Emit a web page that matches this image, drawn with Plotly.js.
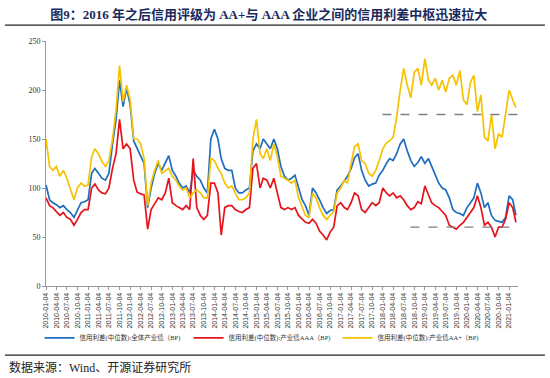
<!DOCTYPE html>
<html><head><meta charset="utf-8">
<script src="https://cdn.plot.ly/plotly-3.0.1.min.js"></script>
<style>html,body{margin:0;padding:0;background:#fff}#chart{width:550px;height:378px}</style>
</head><body><div id="chart"></div>
<script>
// Monthly readings, Jan 2010 .. Mar 2021
var startYear = 2010;
var seriesNames = ["信用利差(中位数):全体产业债（BP)", "信用利差(中位数):产业债AAA（BP)", "信用利差(中位数):产业债AA+（BP)"];
var spreadAll = [
103,88,85,83,80,82,78,75,70,78,85,86,
88,115,120,115,110,108,115,145,170,210,183,202,
185,148,140,132,125,80,100,115,125,118,125,133,
118,112,105,100,102,95,118,112,108,100,95,150,
160,150,130,120,118,118,100,95,95,98,100,138,
145,140,150,145,140,150,140,122,112,108,110,113,
100,88,82,72,100,95,88,80,74,77,78,98,
102,108,112,120,131,135,118,108,102,104,105,113,
118,125,130,128,135,145,150,138,128,122,126,132,
125,130,122,115,105,100,98,90,78,75,74,72,
80,85,90,105,95,80,85,72,67,66,65,70,
92,88,72];
var spreadAAA = [
90,82,80,76,72,75,70,68,62,68,75,78,
78,100,104,98,95,94,100,120,135,170,140,145,
140,108,96,94,93,58,78,84,90,88,95,110,
85,82,80,78,82,78,130,80,72,68,72,105,
105,95,52,80,82,82,78,76,75,78,80,120,
125,100,110,108,100,110,95,80,78,80,78,80,
72,68,65,64,68,64,56,52,47,55,60,82,
85,80,78,85,95,92,78,75,80,85,82,85,
100,95,92,95,90,92,88,82,78,80,86,84,
102,92,85,82,80,76,72,62,60,58,62,65,
70,75,80,92,80,62,65,60,50,60,60,68,
85,80,65];
var spreadAAplus = [
150,122,118,122,112,118,110,100,88,100,105,102,
103,132,140,135,127,122,128,150,180,225,188,205,
190,150,150,145,130,82,105,118,128,115,118,120,
112,108,102,98,100,90,95,98,95,90,90,130,
128,120,115,105,100,102,95,88,88,90,95,150,
170,135,130,140,128,145,132,112,110,108,105,108,
90,80,72,70,95,90,80,72,68,72,76,95,
100,108,105,125,142,145,128,125,115,112,118,128,
140,146,148,152,172,200,222,205,192,218,222,205,
232,210,205,212,200,210,198,212,215,205,220,190,
185,208,215,178,195,152,148,175,140,155,152,175,
200,190,182];
// Centre-line (dashed) levels and spans
var upperLevel = 175, upperSpan = ["2018-01-01", "2021-03-31"];
var lowerLevel = 60,  lowerSpan = ["2018-09-01", "2021-03-31"];

function pad(n){return (n<10?"0":"")+n;}
var dates = [];
for (var i = 0; i < spreadAll.length; i++) {
  var y = startYear + Math.floor(i/12), m = i%12 + 1;
  dates.push(y + "-" + pad(m) + "-04");
}
var tickLabels = [];
for (var yy = 2010; yy <= 2021; yy++) {
  for (var q = 0; q < 4; q++) {
    var lab = yy + "-" + pad(q*3+1) + "-04";
    if (lab <= "2021-01-04") tickLabels.push(lab);
  }
}
var lw = 1.7;
var traces = [
  {x: dates, y: spreadAll, name: seriesNames[0], type: "scatter", mode: "lines", line: {color: "#1F6DBE", width: lw}},
  {x: dates, y: spreadAAA, name: seriesNames[1], type: "scatter", mode: "lines", line: {color: "#E5131B", width: lw}},
  {x: dates, y: spreadAAplus, name: seriesNames[2], type: "scatter", mode: "lines", line: {color: "#F6C200", width: lw}},
  {x: upperSpan, y: [upperLevel, upperLevel], type: "scatter", mode: "lines", showlegend: false, hoverinfo: "skip", line: {color: "#7F7F7F", width: 1.3, dash: "dash"}},
  {x: lowerSpan, y: [lowerLevel, lowerLevel], type: "scatter", mode: "lines", showlegend: false, hoverinfo: "skip", line: {color: "#7F7F7F", width: 1.3, dash: "dash"}}
];
var layout = {
  width: 550, height: 378,
  margin: {l: 46, r: 32, t: 41, b: 92},
  paper_bgcolor: "#fff", plot_bgcolor: "#fff",
  showlegend: true,
  title: {text: "图9：2016 年之后信用评级为 AA+与 AAA 企业之间的信用利差中枢迅速拉大",
    font: {family: "Liberation Serif, Noto Sans CJK SC", size: 13, color: "#1B2A5C", weight: "bold"},
    x: 0.009, xanchor: "left", xref: "paper", y: 0.962, yanchor: "middle", yref: "container"},
  xaxis: {
    type: "date", range: ["2010-01-04", "2021-03-22"],
    tickmode: "array", tickvals: tickLabels, ticktext: tickLabels,
    tickangle: -90, tickfont: {family: "Liberation Sans Narrow, Liberation Sans, Arial", size: 7, color: "#333"},
    ticks: "outside", ticklen: 3, tickcolor: "#999",
    showline: true, linecolor: "#999", linewidth: 1, showgrid: false, zeroline: false
  },
  yaxis: {
    range: [0, 250], dtick: 50, tickmode: "linear", tick0: 0,
    tickfont: {family: "Liberation Serif, Times New Roman", size: 8, color: "#333"},
    ticks: "outside", ticklen: 3, tickcolor: "#999",
    showline: true, linecolor: "#999", linewidth: 1, showgrid: false, zeroline: false
  },
  legend: {orientation: "h", x: 0.46, xanchor: "center", y: -0.212, yanchor: "middle",
    font: {family: "Liberation Serif, Noto Sans CJK SC", size: 6.5, color: "#333"},
    itemwidth: 30, entrywidth: 104, entrywidthmode: "pixels", tracegroupgap: 0, bgcolor: "rgba(0,0,0,0)"},
  shapes: [
    {type: "line", xref: "paper", yref: "paper", x0: -0.087, x1: 1.057, y0: 1.065, y1: 1.065, line: {color: "#222", width: 1.3}},
    {type: "line", xref: "paper", yref: "paper", x0: -0.087, x1: 1.057, y0: -0.282, y1: -0.282, line: {color: "#222", width: 1.3}}
  ],
  annotations: [
    {text: "数据来源：Wind、开源证券研究所", xref: "paper", yref: "paper", x: -0.082, y: -0.331, xanchor: "left", yanchor: "middle", showarrow: false,
     font: {family: "Liberation Serif, Noto Sans CJK SC", size: 12, color: "#222"}}
  ]
};
Plotly.newPlot("chart", traces, layout, {displayModeBar: false, staticPlot: true});
</script></body></html>
